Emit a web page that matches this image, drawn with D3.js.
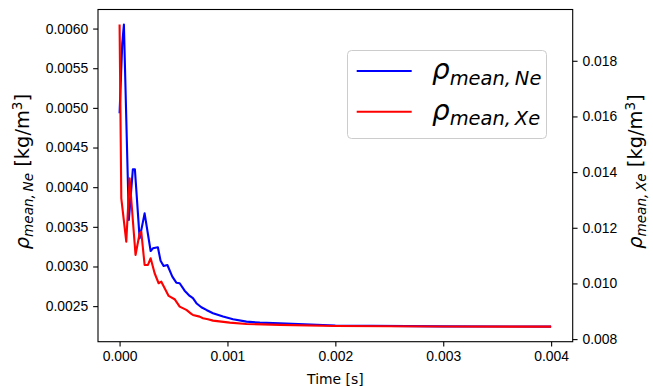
<!DOCTYPE html>
<html>
<head>
<meta charset="utf-8">
<script src="https://cdn.jsdelivr.net/npm/d3@7"></script>
<style>
  body { margin: 0; background: #fff; }
  svg { display: block; font-family: "DejaVu Sans", sans-serif; }
  .axis text { font-size: 13.9px; fill: #000; }
  .axis path, .axis line { stroke: #000; stroke-width: 1.1; }
</style>
</head>
<body>
<svg id="chart" width="653" height="386"></svg>
<script>
// time [s] and mean density readings for each gas
const timeNe = [0, 0.000025, 0.00004, 0.000086, 0.000123, 0.000142, 0.000186, 0.000232,
  0.000288, 0.000309, 0.000355, 0.00038, 0.000408, 0.000443, 0.000489, 0.000526, 0.000557,
  0.000603, 0.00065, 0.00068, 0.000712, 0.000758, 0.000805, 0.000866, 0.000959, 0.001052,
  0.001176, 0.0013, 0.001485, 0.002, 0.003, 0.004];
const rhoNe = [0.004933, 0.005815, 0.00605, 0.003586, 0.004224, 0.004224, 0.003355, 0.00367,
  0.003195, 0.003229, 0.003242, 0.003073, 0.003006, 0.003019, 0.002872, 0.002796, 0.002789,
  0.002695, 0.002629, 0.0026, 0.002537, 0.002486, 0.002452, 0.002411, 0.002368, 0.002335,
  0.002305, 0.002292, 0.002285, 0.002255, 0.002245, 0.002242];

const timeXe = [0, 0.000016, 0.000062, 0.000093, 0.000148, 0.000186, 0.000201, 0.000232,
  0.000263, 0.000288, 0.000325, 0.000362, 0.000387, 0.000418, 0.000455, 0.00051, 0.000557,
  0.000619, 0.000665, 0.00068, 0.000742, 0.000773, 0.000819, 0.000866, 0.001021, 0.001176,
  0.001485, 0.002, 0.003, 0.004];
const rhoXe = [0.0193, 0.01306, 0.0115, 0.013777, 0.011023, 0.011802, 0.01186, 0.010664,
  0.010664, 0.010905, 0.010366, 0.010007, 0.010064, 0.009828, 0.009551, 0.009433, 0.009167,
  0.009048, 0.008905, 0.008869, 0.008808, 0.00875, 0.008714, 0.008664, 0.008592, 0.008545,
  0.00851, 0.00847, 0.00845, 0.008449];

const xTicks = [0, 0.001, 0.002, 0.003, 0.004];
const neTicks = [0.0025, 0.0030, 0.0035, 0.0040, 0.0045, 0.0050, 0.0055, 0.0060];
const xeTicks = [0.008, 0.010, 0.012, 0.014, 0.016, 0.018];

const plotLeft = 98, plotRight = 572.7, plotTop = 9.5, plotBottom = 341.7;

// matplotlib style 5% margins
function padded(lo, hi) {
  const m = (hi - lo) * 0.05;
  return [lo - m, hi + m];
}

const x = d3.scaleLinear().domain(padded(0, 0.004)).range([plotLeft, plotRight]);
const yNe = d3.scaleLinear().domain(padded(d3.min(rhoNe), d3.max(rhoNe))).range([plotBottom, plotTop]);
const yXe = d3.scaleLinear().domain(padded(d3.min(rhoXe), d3.max(rhoXe))).range([plotBottom, plotTop]);

const svg = d3.select('#chart');

const tick = 4.86, pad = 4.9;

svg.append('g')
  .attr('class', 'axis')
  .attr('transform', 'translate(0,' + plotBottom + ')')
  .call(d3.axisBottom(x).tickValues(xTicks).tickFormat(d3.format('.3f')).tickSize(tick).tickPadding(pad))
  .call(g => g.select('.domain').remove());

svg.append('g')
  .attr('class', 'axis')
  .attr('transform', 'translate(' + plotLeft + ',0)')
  .call(d3.axisLeft(yNe).tickValues(neTicks).tickFormat(d3.format('.4f')).tickSize(tick).tickPadding(pad))
  .call(g => g.select('.domain').remove());

svg.append('g')
  .attr('class', 'axis')
  .attr('transform', 'translate(' + plotRight + ',0)')
  .call(d3.axisRight(yXe).tickValues(xeTicks).tickFormat(d3.format('.3f')).tickSize(tick).tickPadding(pad))
  .call(g => g.select('.domain').remove());

// the lines
const lineNe = d3.line().x((d, i) => x(timeNe[i])).y(d => yNe(d));
const lineXe = d3.line().x((d, i) => x(timeXe[i])).y(d => yXe(d));

svg.append('path')
  .datum(rhoNe)
  .attr('d', lineNe)
  .attr('fill', 'none')
  .attr('stroke', '#0000ff')
  .attr('stroke-width', 2.1)
  .attr('stroke-linejoin', 'round');

svg.append('path')
  .datum(rhoXe)
  .attr('d', lineXe)
  .attr('fill', 'none')
  .attr('stroke', '#ff0000')
  .attr('stroke-width', 2.1)
  .attr('stroke-linejoin', 'round');

// frame
svg.append('rect')
  .attr('x', plotLeft).attr('y', plotTop)
  .attr('width', plotRight - plotLeft).attr('height', plotBottom - plotTop)
  .attr('fill', 'none')
  .attr('stroke', '#000')
  .attr('stroke-width', 1.1);

// x label
svg.append('text')
  .attr('x', (plotLeft + plotRight) / 2)
  .attr('y', 384)
  .attr('text-anchor', 'middle')
  .style('font-size', '13.9px')
  .text('Time [s]');

// mathtext-ish label: rho_{mean, gas} [kg/m^3]
function rhoLabel(sel, gas, size, withUnit) {
  sel.append('tspan').style('font-style', 'italic').text('ρ');
  sel.append('tspan')
    .style('font-style', 'italic')
    .style('font-size', (size * 0.7) + 'px')
    .attr('dy', size * 0.2)
    .text('mean,\u2009' + gas);
  if (withUnit) {
    sel.append('tspan').attr('dy', -size * 0.2).text('\u00a0[kg/m');
    sel.append('tspan')
      .style('font-size', (size * 0.7) + 'px')
      .attr('dy', -size * 0.35)
      .text('3');
    sel.append('tspan').attr('dy', size * 0.35).text(']');
  }
}

const labelSize = 19.4;
const midY = (plotTop + plotBottom) / 2;

svg.append('text')
  .attr('transform', 'translate(29,' + (midY - 4) + ') rotate(-90)')
  .attr('text-anchor', 'middle')
  .style('font-size', labelSize + 'px')
  .call(rhoLabel, 'Ne', labelSize, true);

svg.append('text')
  .attr('transform', 'translate(642,' + (midY - 4) + ') rotate(-90)')
  .attr('text-anchor', 'middle')
  .style('font-size', labelSize + 'px')
  .call(rhoLabel, 'Xe', labelSize, true);

// legend
const legendSize = 27.8;
const legend = svg.append('g');
legend.append('rect')
  .attr('x', 347.5).attr('y', 50.5)
  .attr('width', 199).attr('height', 88)
  .attr('rx', 4)
  .attr('fill', '#fff').attr('fill-opacity', 0.8)
  .attr('stroke', '#cccccc').attr('stroke-width', 1);

const legendItems = [
  { gas: 'Ne', color: '#0000ff' },
  { gas: 'Xe', color: '#ff0000' }
];

legendItems.forEach((item, i) => {
  const ly = 71 + i * 40.7;
  legend.append('line')
    .attr('x1', 356.7).attr('x2', 411.7)
    .attr('y1', ly).attr('y2', ly)
    .attr('stroke', item.color)
    .attr('stroke-width', 2.1);
  legend.append('text')
    .attr('x', 432)
    .attr('y', ly + 8)
    .style('font-size', legendSize + 'px')
    .call(rhoLabel, item.gas, legendSize, false);
});
</script>
</body>
</html>
